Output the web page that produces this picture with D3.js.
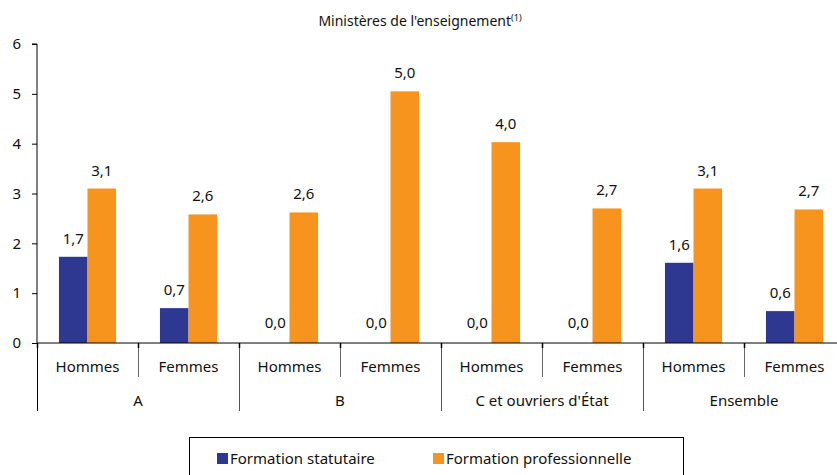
<!DOCTYPE html>
<html><head><meta charset="utf-8">
<script src="https://cdn.jsdelivr.net/npm/d3@7"></script>
<style>
html,body{margin:0;padding:0;background:#fff;overflow:hidden}
text{font-family:"Noto Sans",sans-serif;fill:#111}
</style></head>
<body><svg id="chart" width="837" height="475"></svg>
<script>
const groups = ["A","B","C et ouvriers d'État","Ensemble"];
const sexes = ["Hommes","Femmes"];
const seriesNames = ["Formation statutaire","Formation professionnelle"];
// values in order: A-H, A-F, B-H, B-F, C-H, C-F, Ens-H, Ens-F
const statutaire = [1.73, 0.70, 0.0, 0.0, 0.0, 0.0, 1.61, 0.64];
const professionnelle = [3.10, 2.58, 2.62, 5.05, 4.03, 2.70, 3.10, 2.68];
const labelsStat = ["1,7","0,7","0,0","0,0","0,0","0,0","1,6","0,6"];
const labelsPro = ["3,1","2,6","2,6","5,0","4,0","2,7","3,1","2,7"];
const yTicks = [0,1,2,3,4,5,6];
const colors = ["#2E3890","#F7941D"];
const title = "Ministères de l'enseignement";
const titleNote = "(1)";

const svg = d3.select("#chart");
const x0 = 37, x1 = 845, yTop = 44, yZero = 343;
const fs = 15;

const y = d3.scaleLinear().domain([0,6]).range([yZero, yTop]);
const xGroup = d3.scaleBand().domain(groups).range([x0, x1]).padding(0);
const xSex = d3.scaleBand().domain(sexes).range([0, xGroup.bandwidth()]).padding(0);
const xSer = d3.scaleBand().domain(seriesNames).range([0, xSex.bandwidth()]).paddingInner(0).paddingOuter(0.77);

const rows = [];
groups.forEach((g,gi)=>sexes.forEach((s,si)=>{
  const i = gi*2+si;
  rows.push({g,s,i,vals:[statutaire[i], professionnelle[i]], labs:[labelsStat[i], labelsPro[i]]});
}));

// title
const t = svg.append("text").attr("x", 420).attr("y", 26).attr("text-anchor","middle").attr("font-size",14).text(title);
t.append("tspan").attr("font-size",9).attr("dy",-5).text(titleNote);

// y axis
const yAxis = d3.axisLeft(y).tickValues(yTicks).tickSize(5).tickPadding(11).tickFormat(d3.format("d"));
const ya = svg.append("g").attr("transform",`translate(${x0},0)`).call(yAxis);
ya.select(".domain").attr("stroke","#000").attr("d",`M-5,${yTop}H0V${yZero}`);
ya.selectAll(".tick line").attr("stroke","#000");
ya.selectAll("text").attr("font-size",fs).style("font-family","'Noto Sans',sans-serif").attr("fill","#111");

// bars
const gBars = svg.append("g");
rows.forEach(r=>{
  const bx = xGroup(r.g) + xSex(r.s);
  seriesNames.forEach((sn,k)=>{
    const v = r.vals[k];
    const xx = bx + xSer(sn);
    if (v > 0) {
      gBars.append("rect").attr("x", xx).attr("y", y(v)).attr("width", xSer.bandwidth()).attr("height", yZero - y(v)).attr("fill", colors[k]);
    }
    gBars.append("text").attr("x", xx + xSer.bandwidth()/2).attr("y", y(v) - (v>0?13:15))
      .attr("text-anchor","middle").attr("font-size",fs).text(r.labs[k]);
  });
});

// x axis line
svg.append("line").attr("x1",x0).attr("x2",837).attr("y1",yZero).attr("y2",yZero).attr("stroke","#000").attr("stroke-width",1);

// sub separators and labels
rows.forEach(r=>{
  const bx = xGroup(r.g) + xSex(r.s);
  if (r.s === "Femmes") {
    svg.append("line").attr("x1",bx+0.5).attr("x2",bx+0.5).attr("y1",yZero).attr("y2",377).attr("stroke","#666");
    svg.append("line").attr("x1",bx+0.5).attr("x2",bx+0.5).attr("y1",yZero).attr("y2",yZero+5).attr("stroke","#000").attr("stroke-width",1.5);
  }
  svg.append("text").attr("x", bx + xSex.bandwidth()/2).attr("y", 372).attr("text-anchor","middle").attr("font-size",fs).text(r.s);
});
groups.forEach((g,gi)=>{
  const gx = xGroup(g);
  svg.append("line").attr("x1",gx+0.5).attr("x2",gx+0.5).attr("y1",yZero).attr("y2",411).attr("stroke", gi===0?"#000":"#555");
  svg.append("line").attr("x1",gx+0.5).attr("x2",gx+0.5).attr("y1",yZero).attr("y2",yZero+5).attr("stroke","#000").attr("stroke-width",1.5);
  svg.append("text").attr("x", gx + xGroup.bandwidth()/2).attr("y", 406).attr("text-anchor","middle").attr("font-size",fs).text(g);
});

// legend
const lg = svg.append("g");
lg.append("rect").attr("x",189.5).attr("y",437.5).attr("width",494).attr("height",60).attr("fill","none").attr("stroke","#000");
const legX = [217, 433];
seriesNames.forEach((sn,k)=>{
  lg.append("rect").attr("x",legX[k]).attr("y",453).attr("width",11).attr("height",11).attr("fill",colors[k]);
  lg.append("text").attr("x",legX[k]+13).attr("y",464).attr("font-size",fs).text(sn);
});
</script></body></html>
